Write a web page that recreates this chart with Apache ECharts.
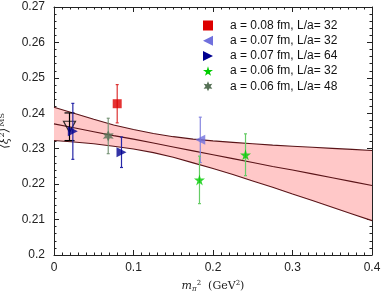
<!DOCTYPE html>
<html><head><meta charset="utf-8">
<script src="https://cdn.jsdelivr.net/npm/echarts@6/dist/echarts.min.js"></script>
<style>html,body{margin:0;padding:0;background:#fff}#c{width:382px;height:292px}</style>
</head><body><div id="c"></div>
<script>
// ---- data ----
const xTicks = [0, 0.1, 0.2, 0.3, 0.4];
const yTicks = [0.2, 0.21, 0.22, 0.23, 0.24, 0.25, 0.26, 0.27];

const bandX      = [0, 0.025, 0.05, 0.075, 0.1, 0.125, 0.15, 0.175, 0.2, 0.225, 0.25, 0.275, 0.3, 0.325, 0.35, 0.375, 0.4];
const bandUpper  = [0.2417, 0.2400, 0.2383, 0.2367, 0.2354, 0.2343, 0.2334, 0.2327, 0.2322, 0.2318, 0.2314, 0.2310, 0.2307, 0.2304, 0.2301, 0.2298, 0.2295];
const bandCenter = [0.2370, 0.2359, 0.2348, 0.2337, 0.2327, 0.2316, 0.2305, 0.2294, 0.2283, 0.2272, 0.2261, 0.2250, 0.2240, 0.2229, 0.2218, 0.2207, 0.2196];
const bandLower  = [0.2323, 0.2319, 0.2314, 0.2307, 0.2299, 0.2289, 0.2276, 0.2260, 0.2244, 0.2227, 0.2209, 0.2191, 0.2172, 0.2154, 0.2135, 0.2116, 0.2097];

// [m_pi^2, value, error]
const a08L32 = [[0.0795, 0.2427, 0.0054]];
const a07L32 = [[0.184, 0.2325, 0.0064]];
const a07L64 = [[0.0237, 0.2349, 0.0079], [0.0849, 0.2290, 0.0043]];
const a06L32 = [[0.183, 0.2212, 0.0067], [0.2409, 0.2283, 0.0059]];
const a06L48 = [[0.0682, 0.2336, 0.0050]];
const extrap = [[0.0195, 0.2362, 0.0039]];

const names = ['a = 0.08 fm, L/a= 32', 'a = 0.07 fm, L/a= 32', 'a = 0.07 fm, L/a= 64', 'a = 0.06 fm, L/a= 32', 'a = 0.06 fm, L/a= 48'];

// ---- styling ----
const star5 = 'path://M50,0 L61,35 L98,35 L68,57 L79,91 L50,70 L21,91 L32,57 L2,35 L39,35 Z';
const star6 = 'path://M50,0 L62.5,28.35 L93.3,25 L75,50 L93.3,75 L62.5,71.65 L50,100 L37.5,71.65 L6.7,75 L25,50 L6.7,25 L37.5,28.35 Z';
const triL = 'path://M0,5 L10,0 L10,10 Z';
const triR = 'path://M0,0 L10,5 L0,10 Z';
const triD = 'path://M0,0 L10,0 L5,9 Z';

const groups = [
  {data: a08L32, color: '#dd0000', bar: '#dd3333', symbol: 'rect', size: 9},
  {data: a07L32, color: '#7070dd', bar: '#8585e0', symbol: triL, size: 10},
  {data: a07L64, color: '#000090', bar: '#2828a8', symbol: triR, size: 10},
  {data: a06L32, color: '#00cc00', bar: '#66cc66', symbol: star5, size: 11},
  {data: a06L48, color: '#557055', bar: '#7a967a', symbol: star6, size: 11}
];

function errRender(color, cap) {
  return function (params, api) {
    const x = api.value(0), y = api.value(1), e = api.value(2);
    const top = api.coord([x, y + e]);
    const bot = api.coord([x, y - e]);
    const st = {stroke: color, lineWidth: 1.2};
    return {type: 'group', children: [
      {type: 'line', shape: {x1: top[0], y1: top[1], x2: bot[0], y2: bot[1]}, style: st},
      {type: 'line', shape: {x1: top[0] - cap, y1: top[1], x2: top[0] + cap, y2: top[1]}, style: st},
      {type: 'line', shape: {x1: bot[0] - cap, y1: bot[1], x2: bot[0] + cap, y2: bot[1]}, style: st}
    ]};
  };
}

const series = [];
// band fill
series.push({
  type: 'custom', silent: true, z: 1, data: [[0]],
  renderItem: function (params, api) {
    const pts = [];
    for (let i = 0; i < bandX.length; i++) pts.push(api.coord([bandX[i], bandUpper[i]]));
    for (let i = bandX.length - 1; i >= 0; i--) pts.push(api.coord([bandX[i], bandLower[i]]));
    return {type: 'polygon', shape: {points: pts}, style: {fill: '#ffc8c8', stroke: null}};
  }
});
[bandUpper, bandCenter, bandLower].forEach(function (arr) {
  series.push({
    type: 'line', silent: true, z: 2, symbol: 'none', smooth: false,
    data: bandX.map(function (x, i) { return [x, arr[i]]; }),
    lineStyle: {color: '#5a1418', width: 1.1}
  });
});
// extrapolated point
series.push({type: 'custom', z: 3, data: extrap, renderItem: errRender('#000000', 5)});
series.push({type: 'scatter', z: 4, data: extrap.map(function (d) { return [d[0], d[1]]; }),
  symbol: triD, symbolSize: [12, 11],
  itemStyle: {color: 'rgba(255,255,255,0)', borderColor: '#000', borderWidth: 1.2}});

groups.forEach(function (g, i) {
  series.push({name: names[i], type: 'custom', z: 5, data: g.data, renderItem: errRender(g.bar, 1.5)});
  series.push({name: names[i], type: 'scatter', z: 6, data: g.data.map(function (d) { return [d[0], d[1]]; }),
    symbol: g.symbol, symbolSize: g.size, itemStyle: {color: g.color}});
});

const axisCommon = {
  axisLine: {show: true, onZero: false, lineStyle: {color: '#222', width: 1}},
  splitLine: {show: false},
  axisTick: {show: true, inside: true, length: 5, lineStyle: {color: '#222'}},
  minorTick: {show: true, length: 2.5, lineStyle: {color: '#222'}}
};

const chart = echarts.init(document.getElementById('c'), null, {renderer: 'canvas'});
chart.setOption({
  animation: false,
  backgroundColor: '#fff',
  grid: {left: 54, right: 10, top: 7, bottom: 37, containLabel: false, outerBoundsMode: 'none'},
  legend: {
    orient: 'vertical', left: 198, top: 14.5, itemGap: 3.2,
    itemWidth: 10, itemHeight: 10,
    data: names.map(function (n, i) {
      return {name: n, icon: groups[i].symbol === 'rect' ? 'rect' : groups[i].symbol, itemStyle: {color: groups[i].color}};
    }),
    textStyle: {fontFamily: 'Liberation Sans', fontSize: 12, color: '#111', padding: [0, 0, 0, 12]}
  },
  xAxis: [
    Object.assign({}, axisCommon, {
      type: 'value', min: xTicks[0], max: xTicks[xTicks.length - 1], interval: 0.1,
      minorTick: Object.assign({}, axisCommon.minorTick, {splitNumber: 10}),
      axisLabel: {fontFamily: 'Liberation Sans', fontSize: 12, color: '#222', margin: 7},
      name: '{i|m}{sub|π}{sup|2}{r|  (GeV}{sup|2}{r|)}',
      nameLocation: 'middle', nameGap: 25,
      nameTextStyle: {rich: {
        i: {fontFamily: 'DejaVu Serif', fontStyle: 'italic', fontSize: 11, color: '#222'},
        sub: {fontFamily: 'DejaVu Serif', fontStyle: 'italic', fontSize: 7, color: '#222', verticalAlign: 'bottom', padding: [6, 0, 0, 0]},
        sup: {fontFamily: 'DejaVu Serif', fontSize: 7, color: '#222', verticalAlign: 'top', padding: [0, 0, 6, 0]},
        r: {fontFamily: 'DejaVu Serif', fontSize: 11, color: '#222'}
      }}
    }),
    Object.assign({}, axisCommon, {
      type: 'value', position: 'top', min: 0, max: 0.4, interval: 0.1,
      minorTick: Object.assign({}, axisCommon.minorTick, {splitNumber: 10}),
      axisLabel: {show: false}
    })
  ],
  yAxis: [
    Object.assign({}, axisCommon, {
      type: 'value', min: yTicks[0], max: yTicks[yTicks.length - 1], interval: 0.01,
      minorTick: Object.assign({}, axisCommon.minorTick, {splitNumber: 5}),
      axisLabel: {fontFamily: 'Liberation Sans', fontSize: 12, color: '#222', margin: 9},
      name: '{i|⟨ξ}{sup|2}{i|⟩}{ms|M̅S̅}',
      nameLocation: 'middle', nameGap: 33, nameRotate: 90,
      nameTextStyle: {rich: {
        i: {fontFamily: 'DejaVu Serif', fontStyle: 'italic', fontSize: 12, color: '#222'},
        sup: {fontFamily: 'DejaVu Serif', fontSize: 8, color: '#222', verticalAlign: 'top', padding: [0, 0, 6, 0]},
        ms: {fontFamily: 'DejaVu Serif', fontSize: 8, color: '#222', verticalAlign: 'top', padding: [0, 0, 6, 1]}
      }}
    }),
    Object.assign({}, axisCommon, {
      type: 'value', position: 'right', min: 0.2, max: 0.27, interval: 0.01,
      minorTick: Object.assign({}, axisCommon.minorTick, {splitNumber: 5}),
      axisLabel: {show: false}
    })
  ],
  series: series
});
</script>
</body></html>
